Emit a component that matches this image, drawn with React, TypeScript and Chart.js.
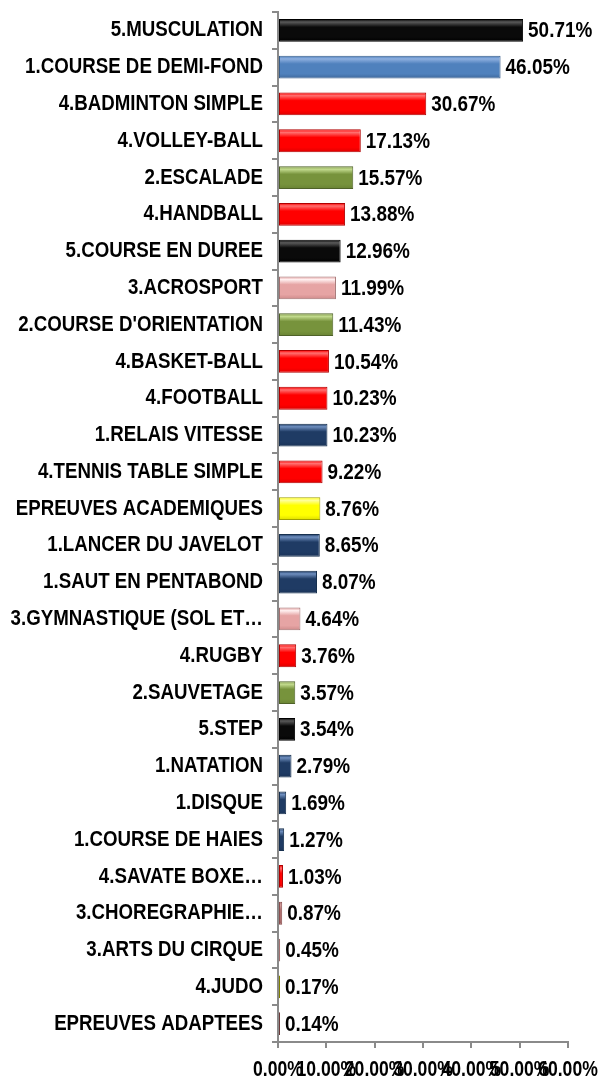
import React, { useEffect, useRef } from "react";
import { Chart, registerables } from "chart.js";

Chart.register(...registerables);

const categories: string[] = [
  "5.MUSCULATION",
  "1.COURSE DE DEMI-FOND",
  "4.BADMINTON SIMPLE",
  "4.VOLLEY-BALL",
  "2.ESCALADE",
  "4.HANDBALL",
  "5.COURSE EN DUREE",
  "3.ACROSPORT",
  "2.COURSE D'ORIENTATION",
  "4.BASKET-BALL",
  "4.FOOTBALL",
  "1.RELAIS VITESSE",
  "4.TENNIS TABLE SIMPLE",
  "EPREUVES ACADEMIQUES",
  "1.LANCER DU JAVELOT",
  "1.SAUT EN PENTABOND",
  "3.GYMNASTIQUE (SOL ET…",
  "4.RUGBY",
  "2.SAUVETAGE",
  "5.STEP",
  "1.NATATION",
  "1.DISQUE",
  "1.COURSE DE HAIES",
  "4.SAVATE BOXE…",
  "3.CHOREGRAPHIE…",
  "3.ARTS DU CIRQUE",
  "4.JUDO",
  "EPREUVES ADAPTEES",
];

const values: number[] = [
  50.71, 46.05, 30.67, 17.13, 15.57, 13.88, 12.96, 11.99, 11.43, 10.54, 10.23,
  10.23, 9.22, 8.76, 8.65, 8.07, 4.64, 3.76, 3.57, 3.54, 2.79, 1.69, 1.27, 1.03,
  0.87, 0.45, 0.17, 0.14,
];

const colorKeys: string[] = [
  "black", "blue", "red", "red", "green", "red", "black", "pink", "green", "red",
  "red", "navy", "red", "yellow", "navy", "navy", "pink", "red", "green", "black",
  "navy", "navy", "navy", "red", "rose", "pink", "olive", "brown",
];

const axisMin = 0;
const axisMax = 60;
const axisStep = 10;

// [top highlight, middle, bottom, border]
const palette: Record<string, string[]> = {
  black: ["#5a5a5a", "#0a0a0a", "#000000", "#000000"],
  blue: ["#8fb0e0", "#4f81bd", "#3f6a9e", "#385d8a"],
  red: ["#ff7070", "#ff0000", "#e00000", "#b00000"],
  green: ["#c4dc90", "#77933c", "#6a8434", "#4f6228"],
  pink: ["#fff0f0", "#e6a4a4", "#d08c8c", "#a07070"],
  navy: ["#6f8fbf", "#1f3b64", "#1a3358", "#17304f"],
  yellow: ["#ffffa0", "#ffff00", "#e0e000", "#a0a000"],
  rose: ["#d8a0a0", "#b07070", "#9a5e5e", "#8a5050"],
  olive: ["#c0c040", "#a0a000", "#909000", "#808000"],
  brown: ["#b08080", "#8c5050", "#7a4444", "#6a3a3a"],
};

const FONT = '"Liberation Sans", Arial, sans-serif';

function drawNarrow(ctx: CanvasRenderingContext2D, text: string, x: number, y: number, size: number, sx: number, align: CanvasTextAlign) {
  ctx.save();
  ctx.translate(x, y);
  ctx.scale(sx, 1);
  ctx.font = `bold ${size}px ${FONT}`;
  ctx.fillStyle = "#000";
  ctx.textAlign = align;
  ctx.textBaseline = "middle";
  ctx.fillText(text, 0, 0);
  ctx.restore();
}

export default function App() {
  const ref = useRef<HTMLCanvasElement | null>(null);

  useEffect(() => {
    document.body.style.margin = "0";
    const canvas = ref.current;
    if (!canvas) return;

    const textPlugin = {
      id: "narrowText",
      afterDraw(chart: any) {
        const ctx = chart.ctx;
        const meta = chart.getDatasetMeta(0);
        const yScale = chart.scales.y;
        const xScale = chart.scales.x;
        meta.data.forEach((bar: any, i: number) => {
          drawNarrow(ctx, values[i].toFixed(2) + "%", bar.x + 5, bar.y + 1, 22, 0.86, "left");
        });
        categories.forEach((c, i) => {
          const y = yScale.getPixelForValue(i);
          drawNarrow(ctx, c, 263, y, 22, 0.85, "right");
        });
        xScale.ticks.forEach((t: any) => {
          const x = xScale.getPixelForValue(t.value);
          drawNarrow(ctx, Number(t.value).toFixed(2) + "%", x, 1070, 22, 0.8, "center");
        });
      },
    };

    const barFill = (c: any) => {
      const key = colorKeys[c.dataIndex] || "red";
      const p = palette[key];
      const chart = c.chart;
      const y = chart.scales && chart.scales.y;
      if (!y || !chart.chartArea) return p[1];
      const yc = y.getPixelForValue(c.dataIndex);
      const half = 11;
      const g = chart.ctx.createLinearGradient(0, yc - half, 0, yc + half);
      g.addColorStop(0, p[1]);
      g.addColorStop(0.12, p[0]);
      g.addColorStop(0.35, p[1]);
      g.addColorStop(0.8, p[1]);
      g.addColorStop(1, p[2]);
      return g;
    };

    const chart = new Chart(canvas, {
      type: "bar",
      data: {
        labels: categories,
        datasets: [
          {
            data: values,
            backgroundColor: barFill as any,
            borderColor: colorKeys.map((k) => palette[k][3]),
            borderWidth: 1,
            borderSkipped: false,
            barPercentage: 0.62,
            categoryPercentage: 1,
            minBarLength: 2,
          },
        ],
      },
      options: {
        indexAxis: "y",
        animation: false,
        responsive: false,
        maintainAspectRatio: false,
        layout: { padding: { top: 12, right: 34, left: 0, bottom: 0 } },
        plugins: {
          legend: { display: false },
          tooltip: { enabled: false },
        },
        scales: {
          x: {
            min: axisMin,
            max: axisMax,
            border: { display: true, color: "#8a8a8a", width: 2 },
            grid: { drawOnChartArea: false, drawTicks: true, tickLength: 6, color: "#8a8a8a", lineWidth: 2 },
            ticks: {
              display: false,
              stepSize: axisStep,
              autoSkip: false,
            },
            afterFit: (s: any) => {
              s.height = 42;
              s.paddingLeft = 0;
              s.paddingRight = 0;
            },
          },
          y: {
            border: { display: true, color: "#8a8a8a", width: 2 },
            grid: { drawOnChartArea: false, drawTicks: true, tickLength: 6, color: "#8a8a8a", lineWidth: 2, offset: true },
            ticks: {
              display: false,
              autoSkip: false,
            },
            afterFit: (s: any) => {
              s.width = 278;
              s.paddingTop = 0;
              s.paddingBottom = 0;
            },
          },
        },
      },
      plugins: [textPlugin],
    });

    return () => chart.destroy();
  }, []);

  return (
    <div style={{ width: 602, height: 1084, background: "#fff" }}>
      <canvas ref={ref} width={602} height={1084} style={{ width: 602, height: 1084 }} />
    </div>
  );
}
